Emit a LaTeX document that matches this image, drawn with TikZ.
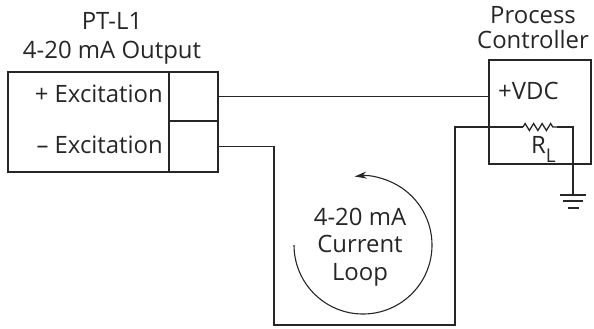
\documentclass[tikz,border=0pt]{standalone}
\usepackage{fontspec}
\setmainfont{Open Sans}
\usetikzlibrary{arrows.meta,decorations.pathmorphing}
\begin{document}
\begin{tikzpicture}[x=1bp,y=-1bp]
        \tikzset{
            wire/.style={draw=black!85,line width=1.3bp},
            cell/.style={rectangle,draw=black!85,line width=1.3bp,inner sep=0pt},
            txt/.style={text=black!85,inner sep=0pt,align=center,font=\fontsize{24}{28}\selectfont}
        }
        \useasboundingbox (0,0) rectangle (594,328);

        % transmitter
        \node[cell,minimum width=49bp,minimum height=49bp] (tp) at (193.5,96.5) {};
        \node[cell,minimum width=49bp,minimum height=51bp] (bt) at (193.5,146.5) {};
        \node[cell,line width=2.2bp,minimum width=210bp,minimum height=100bp] (pt) at (113,122) {};
        \node[txt,font=\fontsize{24}{29}\selectfont] (ptl) at (112,38) {PT-L1\\4-20 mA Output};
        \node[txt,anchor=east] (exp) at (163,94) {+ Excitation};
        \node[txt,anchor=east] (exm) at (163,145) {– Excitation};

        % controller
        \node[cell,minimum width=102bp,minimum height=104bp] (ctrl) at (540,112) {};
        \node[txt,font=\fontsize{24}{25}\selectfont] (ctrll) at (533,28) {Process\\Controller};
        \node[txt,anchor=west] (vdc) at (498,91) {+VDC};
        \node[txt,anchor=base west] (rl) at (531,153) {R\raisebox{-9bp}{\fontsize{19}{19}\selectfont L}};

        \coordinate (ra) at (523,127);
        \coordinate (rb) at (557,127);
        \coordinate (gnd) at (573,195);
        \coordinate (lp1) at (274,325);
        \coordinate (lp2) at (455,325);

        \draw[wire] (tp.east) -- (tp.east -| ctrl.west);
        \draw[wire] (bt.east) -| (lp1) -- (lp2) |- (ra);
        \draw[wire,decorate,decoration={zigzag,segment length=8.5bp,amplitude=3.5bp}] (ra) -- (rb);
        \draw[wire] (rb) -| (gnd);
        \draw[wire] ([xshift=-13bp]gnd) -- ([xshift=13bp]gnd);
        \draw[wire] ([xshift=-10bp,yshift=-6bp]gnd) -- ([xshift=10bp,yshift=-6bp]gnd);
        \draw[wire] ([xshift=-5.5bp,yshift=-13bp]gnd) -- ([xshift=5.5bp,yshift=-13bp]gnd);

        % current loop
        \coordinate (arcs) at (294,245);
        \draw[wire,line width=1.1bp,-{Stealth[length=12bp,width=7bp]}] (arcs) arc[start angle=180,end angle=457,radius=69bp];
        \node[txt,font=\fontsize{24}{27.5}\selectfont] (loop) at (360,247) {4-20 mA\\Current\\Loop};
    \end{tikzpicture}
\end{document}
